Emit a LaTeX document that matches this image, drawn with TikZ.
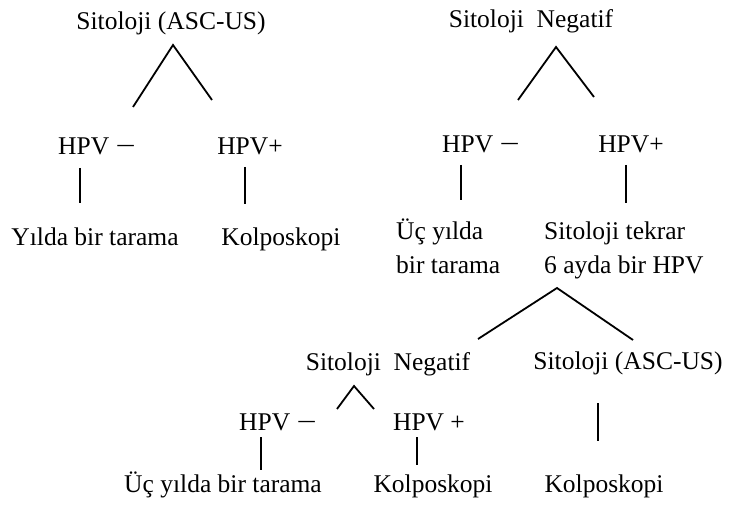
\documentclass[tikz,border=0pt]{standalone}
\usepackage{fontspec}
\setmainfont{Liberation Serif}
\usepackage{tikz}

\newcommand{\hpvneg}{\scalebox{1.4}[1]{−}}
\tikzset{
  lbl/.style={inner sep=0pt, anchor=base, font=\fontsize{25.5}{34}\selectfont},
  lblml/.style={lbl, anchor=base west, align=left},
  link/.style={line width=1.8pt}
}

\begin{document}
\begin{tikzpicture}[x=1pt, y=-1pt]
  \useasboundingbox (0,0) rectangle (733,505);
  % upper left tree
  \node[lbl] (t1) at (171,30) {Sitoloji (ASC-US)};
  \node[lbl] (a1) at (97,155) {HPV \hpvneg};
  \node[lbl] (a2) at (250,155) {HPV+};
  \node[lbl] (b1) at (95,245) {Yılda bir tarama};
  \node[lbl] (b2) at (281,245) {Kolposkopi};
  % upper right tree
  \node[lbl] (t2) at (531,28) {Sitoloji\hspace{0.5em}Negatif};
  \node[lbl] (a3) at (481,153) {HPV \hpvneg};
  \node[lbl] (a4) at (631,153) {HPV+};
  \node[lblml] (b3) at (396,273) {Üç yılda\\bir tarama};
  \node[lblml] (b4) at (544,273) {Sitoloji tekrar\\6 ayda bir HPV};
  % lower tree
  \node[lbl] (c1) at (388,370) {Sitoloji\hspace{0.5em}Negatif};
  \node[lbl] (c2) at (628,369) {Sitoloji (ASC-US)};
  \node[lbl] (d1) at (278,430) {HPV \hpvneg};
  \node[lbl] (d2) at (429,430) {HPV +};
  \node[lbl] (e1) at (223,492) {Üç yılda bir tarama};
  \node[lbl] (e2) at (433,492) {Kolposkopi};
  \node[lbl] (e3) at (604,492) {Kolposkopi};

  \coordinate (p1) at (173,45);  \coordinate (l1) at (133,107); \coordinate (r1) at (212,100);
  \coordinate (p2) at (556,47);  \coordinate (l2) at (518,100); \coordinate (r2) at (594,97);
  \coordinate (p3) at (557,288); \coordinate (l3) at (478,339); \coordinate (r3) at (633,340);
  \coordinate (p4) at (354,386); \coordinate (l4) at (337,409); \coordinate (r4) at (374,409);
  \coordinate (v1) at (80,168);  \coordinate (w1) at (80,203);
  \coordinate (v2) at (245,167); \coordinate (w2) at (245,204);
  \coordinate (v3) at (461,165); \coordinate (w3) at (461,200);
  \coordinate (v4) at (626,165); \coordinate (w4) at (626,203);
  \coordinate (v5) at (261,437); \coordinate (w5) at (261,470);
  \coordinate (v6) at (417,437); \coordinate (w6) at (417,465);
  \coordinate (v7) at (598,403); \coordinate (w7) at (598,441);

  \foreach \i in {1,...,4}
    \draw[link] (l\i) -- (p\i) -- (r\i);
  \foreach \i in {1,...,7}
    \draw[link] (v\i) -- (w\i);
\end{tikzpicture}
\end{document}
